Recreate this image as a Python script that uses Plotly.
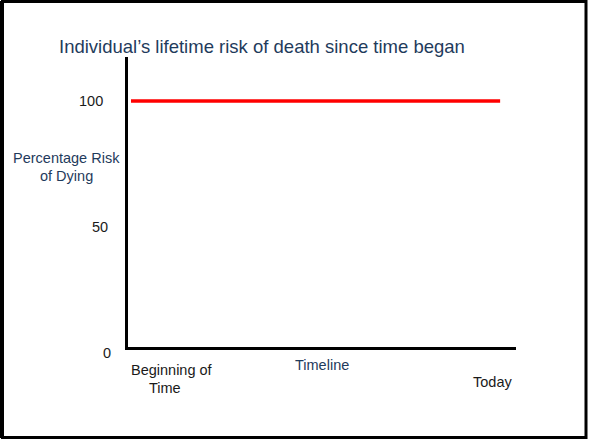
import plotly.graph_objects as go

# Data
timeline = [0, 100]
risk = [100, 100]
tick_values = [100, 50, 0]
tick_labels = ["100", "50", "0"]
title_text = "Individual\u2019s lifetime risk of death since time began"

W, H = 589, 440
L, R, T, B = 128, 516, 57, 347  # plot area in pixels
Y0, Y1 = 2.4, 117.5

def px(x):
    return (x - L) / (R - L)

def py(y):
    return (B - y) / (B - T)

def vy(v):
    return (v - Y0) / (Y1 - Y0)

fig = go.Figure()
fig.add_trace(go.Scatter(x=timeline, y=risk, mode="lines",
                         line=dict(color="#FF0000", width=3.5),
                         hoverinfo="skip", showlegend=False))

navy = "#1F3B5C"
dark = "#1a1a1a"
font = "Liberation Sans, Arial, sans-serif"
fs = 14.5

def txt(text, x, y, color, size=fs, anchor="center"):
    return dict(text=text, xref="paper", yref="paper", x=px(x), y=py(y),
                xanchor=anchor, yanchor="middle", showarrow=False, align="center",
                font=dict(family=font, size=size, color=color))

ann = [
    txt(title_text, 57, 47, navy, size=18.5, anchor="left"),
    txt("Percentage Risk", 66, 158, navy),
    txt("of Dying", 66, 176, navy),
    txt("Beginning of", 171.5, 370, dark),
    txt("Time", 165, 388, dark),
    txt("Timeline", 322, 365, navy),
    txt("Today", 492, 382, dark),
]
label_right = {"100": 105, "50": 110, "0": 113}
for v, t in zip(tick_values, tick_labels):
    ann.append(dict(text=t, xref="paper", yref="paper", x=px(label_right[t]), y=vy(v),
                    xanchor="right", yanchor="middle", showarrow=False,
                    font=dict(family=font, size=fs, color=dark)))

fig.update_layout(
    width=W, height=H,
    margin=dict(l=L, r=W - R, t=T, b=H - B, pad=0),
    paper_bgcolor="white", plot_bgcolor="white",
    annotations=ann,
    shapes=[
        dict(type="rect", xref="paper", yref="paper",
             x0=px(2.5), x1=px(586), y0=py(437.5), y1=py(1.5),
             line=dict(color="black", width=3), fillcolor="rgba(0,0,0,0)", layer="above"),
        dict(type="line", xref="paper", yref="paper",
             x0=px(2), x1=px(2), y0=py(438), y1=py(1),
             line=dict(color="black", width=4), layer="above"),
    ],
    xaxis=dict(range=[-0.81, 104.3], showgrid=False, zeroline=False, showticklabels=False,
               ticks="", showline=True, linecolor="black", linewidth=3, fixedrange=True),
    yaxis=dict(range=[Y0, Y1], showgrid=False, zeroline=False, showticklabels=False,
               ticks="", showline=True, linecolor="black", linewidth=3, fixedrange=True),
)

fig.write_html("out.html", config={"displayModeBar": False},
               post_script="document.body.style.margin='0';document.body.style.overflow='hidden';")
